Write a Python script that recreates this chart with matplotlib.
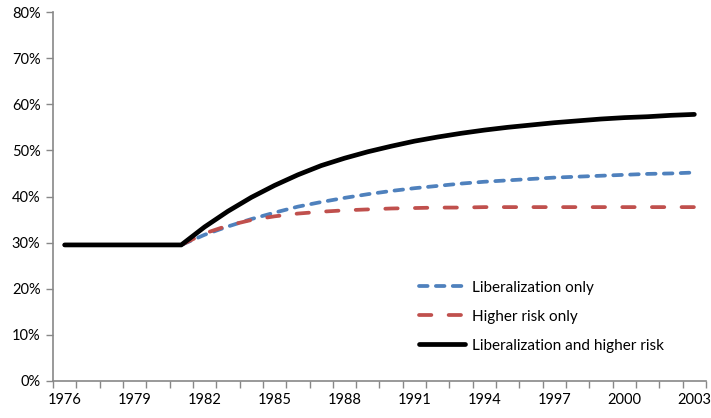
import numpy as np
import matplotlib
matplotlib.use("Agg")
import matplotlib.pyplot as plt

years = list(range(1976, 2004))
tick_years = [1976, 1979, 1982, 1985, 1988, 1991, 1994, 1997, 2000, 2003]

lib_only = [29.5, 29.5, 29.5, 29.5, 29.5, 29.5,
            31.7, 33.5, 35.1, 36.5, 37.8, 38.8, 39.7, 40.5, 41.2, 41.8,
            42.3, 42.8, 43.2, 43.5, 43.8, 44.1, 44.3, 44.5, 44.7, 44.9,
            45.0, 45.2]
risk_only = [29.5, 29.5, 29.5, 29.5, 29.5, 29.5,
             32.0, 33.7, 34.9, 35.7, 36.3, 36.7, 37.0, 37.2, 37.4, 37.5,
             37.6, 37.6, 37.7, 37.7, 37.7, 37.7, 37.7, 37.7, 37.7, 37.7,
             37.7, 37.7]
lib_and_risk = [29.5, 29.5, 29.5, 29.5, 29.5, 29.5,
                33.4, 36.8, 39.8, 42.4, 44.7, 46.7, 48.3, 49.7, 50.9, 52.0,
                52.9, 53.7, 54.4, 55.0, 55.5, 56.0, 56.4, 56.8, 57.1, 57.3,
                57.6, 57.8]

plt.rcParams['font.family'] = ['Lato', 'DejaVu Sans']

fig = plt.figure(figsize=(7.11, 4.18), dpi=100)
ax = fig.add_axes([53/711, 1-381/418, 653/711, 369/418])

x = np.arange(len(years))
lw = 2.7
ax.plot(x, lib_only, color='#4F81BD', lw=lw, dashes=(2.3, 2.2),
        dash_capstyle='round', label='Liberalization only')
ax.plot(x, risk_only, color='#C0504D', lw=lw, dashes=(3.3, 4.6),
        dash_capstyle='round', label='Higher risk only')
ax.plot(x, lib_and_risk, color='black', lw=3.4, solid_capstyle='round',
        label='Liberalization and higher risk')

ax.set_xlim(-0.5, len(years) - 0.5)
ax.set_ylim(0, 80)
ax.set_yticks(np.arange(0, 81, 10))
ax.set_yticklabels([f"{v}%" for v in range(0, 81, 10)])

ax.set_xticks(np.arange(-0.5, len(years)), minor=False)
ax.set_xticklabels([])
ax.set_xticks([years.index(y) for y in tick_years], minor=True)
ax.set_xticklabels([str(y) for y in tick_years], minor=True)
ax.tick_params(axis='x', which='major', length=5, color='#888888', width=1)
ax.tick_params(axis='x', which='minor', length=0, pad=9, labelsize=10.5)
ax.tick_params(axis='y', length=5, color='#888888', width=1, labelsize=10.5, pad=4)

for s in ['top', 'right']:
    ax.spines[s].set_visible(False)
for s in ['left', 'bottom']:
    ax.spines[s].set_color('#888888')
    ax.spines[s].set_linewidth(1.2)

ax.legend(loc='upper left', bbox_to_anchor=(405/711, 1-267/418),
          bbox_transform=fig.transFigure, frameon=False, fontsize=11,
          handlelength=3.0, labelspacing=0.98, handletextpad=0.5)

fig.savefig('out.png', dpi=100)
